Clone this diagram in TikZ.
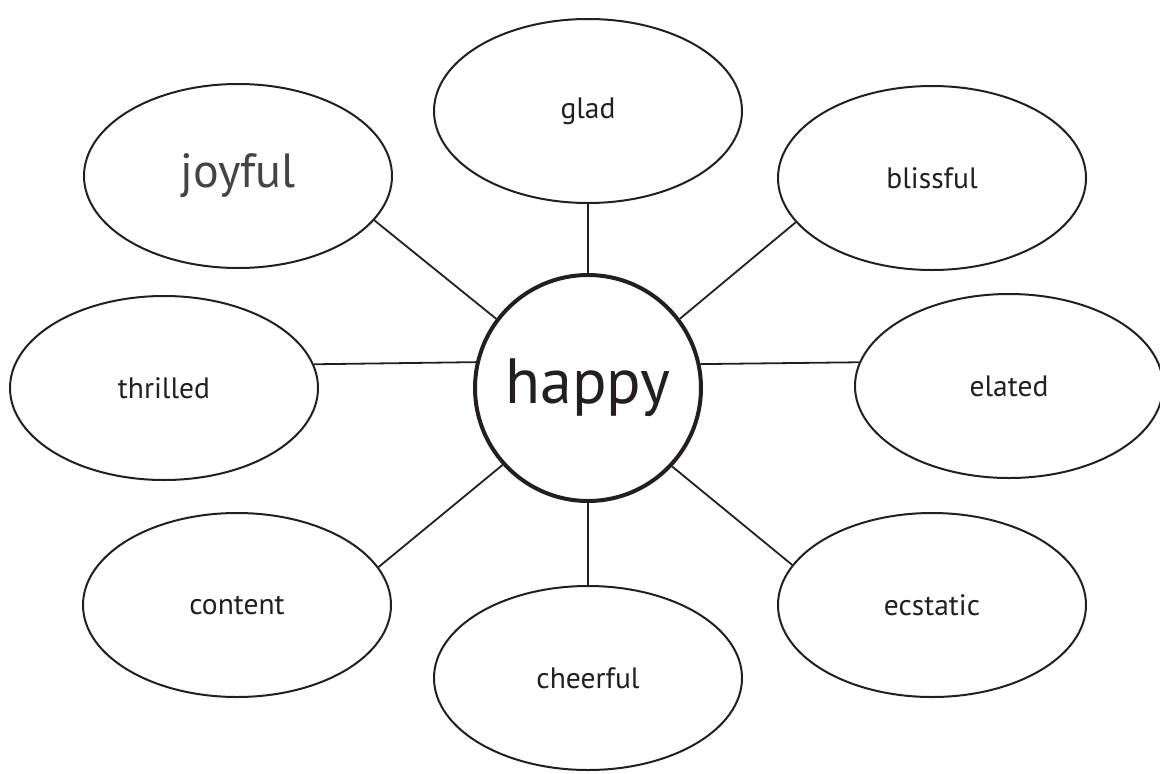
\documentclass[tikz,border=0pt]{standalone}
\usepackage{fontspec}
\setmainfont{PT Sans}
\usepackage{tikz}
\usetikzlibrary{shapes.geometric}

\definecolor{inkdark}{HTML}{231F20}
\definecolor{inkgray}{HTML}{444444}

\begin{document}
\begin{tikzpicture}[
  x=1pt, y=-1pt,
  bubble/.style={ellipse, draw=inkdark, line width=2pt, inner sep=0pt,
                 minimum width=308pt, minimum height=184pt, text=inkdark,
                 font=\fontsize{29.5}{32}\selectfont},
  hub/.style={circle, draw=inkdark, line width=4pt, inner sep=0pt,
              minimum size=226pt, text=inkdark, font=\fontsize{64}{70}\selectfont},
  spoke/.style={draw=inkdark, line width=1.8pt},
]
\useasboundingbox (0,0) rectangle (1160,774);
% ---- centre ----
\node[hub] (happy) at (588,388) {happy};
% ---- outer bubbles ----
\node[bubble] (glad)     at (588,111) {glad};
\node[bubble, text=inkgray, font=\fontsize{48}{52}\selectfont] (joyful) at (238,176) {joyful};
\node[bubble] (blissful) at (932,178) {blissful};
\node[bubble] (thrilled) at (164,388) {thrilled};
\node[bubble] (elated)   at (1009,386) {elated};
\node[bubble] (content)  at (237,605) {content};
\node[bubble] (ecstatic) at (932,605) {ecstatic};
\node[bubble] (cheerful) at (588,678) {cheerful};
% ---- spokes ----
\draw[spoke] (happy.90)    -- (glad.270);
\draw[spoke] (happy.37.5)  -- (blissful.198.2);
\draw[spoke] (happy.12.8)  -- (elated.171.4);
\draw[spoke] (happy.-43.6) -- (ecstatic.164.5);
\draw[spoke] (happy.270)   -- (cheerful.90);
\draw[spoke] (happy.222.6) -- (content.15.4);
\draw[spoke] (happy.167.2) -- (thrilled.9.5);
\draw[spoke] (happy.143.9) -- (joyful.-18.6);
\end{tikzpicture}
\end{document}
